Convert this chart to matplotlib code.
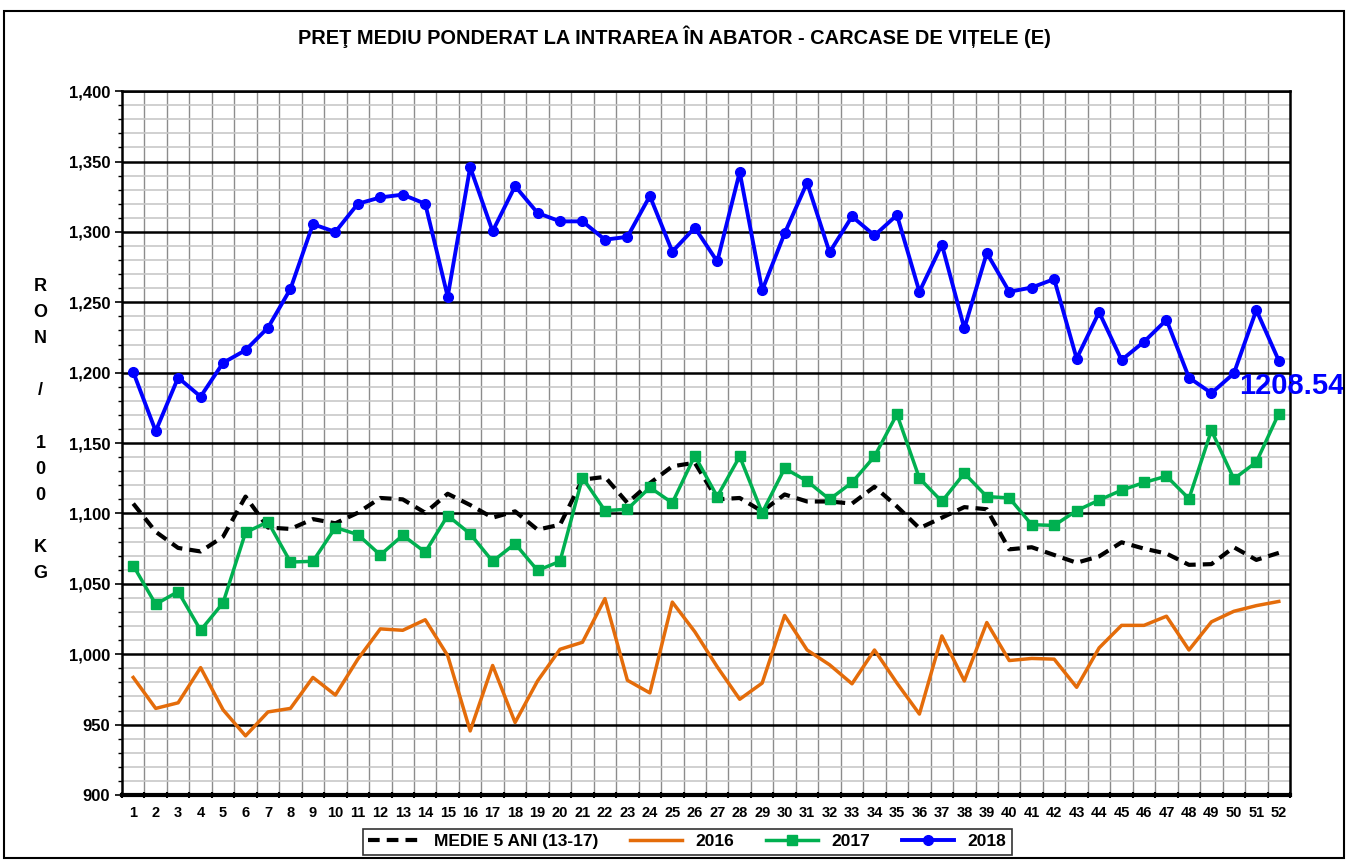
import matplotlib
matplotlib.use("Agg")
import matplotlib.pyplot as plt
from matplotlib.ticker import MultipleLocator, FuncFormatter
from matplotlib.patches import Rectangle

plt.rcParams['font.family'] = ['Liberation Sans', 'DejaVu Sans']

#%% DATA

weeks = list(range(1, 53))

medie_5_ani = [1107, 1087, 1075.5, 1073, 1083.5, 1112, 1090, 1089, 1096, 1093,
               1100.5, 1111, 1110, 1100.5, 1114, 1106, 1097, 1101.5, 1088.5, 1092,
               1124, 1126, 1107.5, 1121.5, 1133.5, 1136, 1110, 1111, 1101.5, 1113.5,
               1108.5, 1108.5, 1107, 1119, 1105, 1089.5, 1097, 1104.5, 1103, 1074.5,
               1076, 1070.5, 1065, 1069.5, 1079.5, 1075, 1071.5, 1063.5, 1064, 1076,
               1067, 1072]

y2016 = [983.5, 961.5, 965.5, 990.5, 960.5, 942, 959, 961.5, 983.5, 971,
         996.5, 1018, 1017, 1024.5, 999, 945.5, 992, 951.5, 981, 1003.5,
         1008.5, 1039.5, 981.5, 972.5, 1037, 1016, 991, 968, 979.5, 1027.5,
         1003, 992.5, 979, 1003, 979.5, 957.5, 1013, 981, 1022.5, 995.5,
         997, 996.5, 976.5, 1004.5, 1020.5, 1020.5, 1027, 1003, 1023, 1030.5,
         1034.5, 1037.5]

y2017 = [1063, 1035.5, 1044.5, 1017, 1036.5, 1086.5, 1094, 1065.5, 1066, 1090,
         1085, 1070.5, 1084.5, 1072.5, 1098.5, 1085.5, 1066, 1078.5, 1059.5, 1066,
         1125.5, 1102, 1103, 1118.5, 1107.5, 1141, 1112, 1140.5, 1100.5, 1132,
         1123, 1110, 1122, 1140.5, 1170.5, 1125, 1108.5, 1128.5, 1112, 1111,
         1092, 1091.5, 1102, 1109.5, 1116.5, 1122, 1126.5, 1110.5, 1159, 1124.5,
         1136.5, 1171]

y2018 = [1200.5, 1158.5, 1196.5, 1183, 1207, 1216, 1232, 1259.5, 1305.5, 1300,
         1320, 1324.5, 1326.5, 1320, 1254, 1346, 1300.5, 1332.5, 1313.5, 1307.5,
         1307.5, 1294.5, 1296.5, 1325.5, 1286, 1303, 1279, 1342.5, 1258.5, 1299,
         1335, 1285.5, 1311, 1297.5, 1312, 1257.5, 1291, 1231.5, 1285, 1257.5,
         1260.5, 1266.5, 1210, 1243, 1209, 1222, 1237.5, 1196.5, 1185.5, 1199.5,
         1244.5, 1208.54]

title = "PREŢ MEDIU PONDERAT LA INTRAREA ÎN ABATOR - CARCASE DE VIȚELE (E)"
ylabel = "R\nO\nN\n\n/\n\n1\n0\n0\n\nK\nG"

#%% FIGURE

fig = plt.figure(figsize=(13.48, 8.6), dpi=100)
ax = fig.add_axes([0.0905, 0.0756, 0.8665, 0.8184])

ax.plot(weeks, medie_5_ani, color="black", lw=3, ls=(0, (2.8, 1.7)),
        label="MEDIE 5 ANI (13-17)", zorder=4)
ax.plot(weeks, y2016, color="#E46C0A", lw=2.5, label="2016", zorder=4)
ax.plot(weeks, y2017, color="#00B050", lw=2.5, marker="s", ms=7,
        label="2017", zorder=5)
ax.plot(weeks, y2018, color="#0000FF", lw=2.8, marker="o", ms=7,
        label="2018", zorder=6)

ax.text(weeks[-1] - 1.75, y2018[-1] - 18, "{:.2f}".format(y2018[-1]),
        color="#0000FF", fontsize=21, fontweight="bold", ha="left", va="center",
        clip_on=False, zorder=7)

ax.set_xlim(0.5, 52.5)
ax.set_ylim(900, 1400)

# grid: light minor rows, black major rows, gray columns between weeks
ax.yaxis.set_major_locator(MultipleLocator(50))
ax.yaxis.set_minor_locator(MultipleLocator(10))
ax.grid(which="minor", axis="y", color="#c8c8c8", lw=1.2, zorder=1)
ax.grid(which="major", axis="y", color="black", lw=1.8, zorder=2)
for b in range(1, 52):
    ax.axvline(b + 0.5, color="#8c8c8c", lw=1, zorder=1)

ax.set_xticks(weeks)
ax.set_xticks([w + 0.5 for w in range(0, 53)], minor=True)
ax.tick_params(axis="x", which="major", length=0, pad=8, labelsize=10.5)
ax.tick_params(axis="x", which="minor", length=4, width=1.5, direction="inout")
ax.tick_params(axis="y", which="major", length=5, width=1.2, labelsize=12)
ax.tick_params(axis="y", which="minor", length=3, width=1)
ax.yaxis.set_major_formatter(FuncFormatter(lambda v, p: "{:,.0f}".format(v)))
for lab in ax.get_xticklabels() + ax.get_yticklabels():
    lab.set_fontweight("bold")

for s in ["top", "right", "left"]:
    ax.spines[s].set_linewidth(1.8)
ax.spines["bottom"].set_linewidth(3)

fig.text(0.5, 0.957, title, ha="center", va="center", fontsize=14.4,
         fontweight="bold")
fig.text(0.03, 0.5, ylabel, ha="center", va="center", fontsize=13,
         fontweight="bold", linespacing=1.7)

leg = ax.legend(loc="upper center", bbox_to_anchor=(0.484, -0.036), ncol=4,
                frameon=True, fancybox=False, edgecolor="black",
                prop={"weight": "bold", "size": 12.5}, handlelength=3.0,
                columnspacing=1.8, borderpad=0.3)
leg.get_frame().set_linewidth(1.2)

fig.patches.append(Rectangle((0.003, 0.002), 0.994, 0.985, transform=fig.transFigure,
                             fill=False, edgecolor="black", lw=1.5))

plt.savefig("out.png", dpi=100)
